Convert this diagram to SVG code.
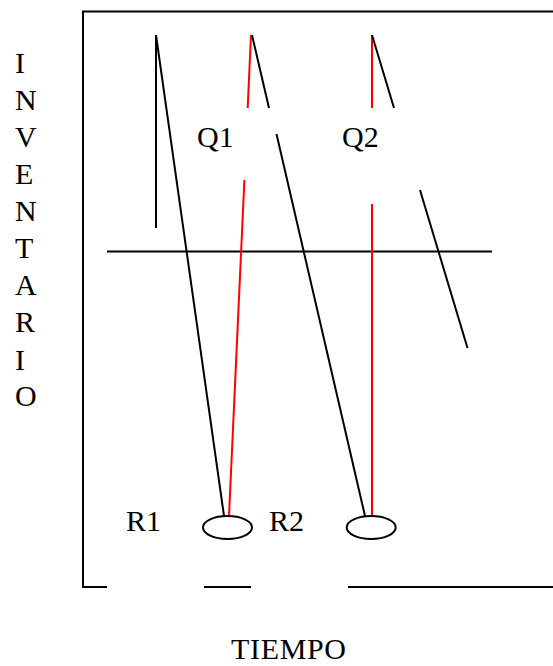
<svg xmlns="http://www.w3.org/2000/svg" width="553" height="666" viewBox="0 0 553 666">
<style>
.t{font-family:"Liberation Serif","Times New Roman",serif;font-size:30px;fill:#000}
.k{stroke:#000;stroke-width:2;fill:none}
.r{stroke:#ff0000;stroke-width:2;fill:none}
</style>
<rect width="553" height="666" fill="#fff"/>
<g id="frame">
<path class="k" d="M553,11.5 H83 V587 H107 M204,587 H251 M348,587 H553"/>
</g>
<g id="axis-labels">
<text class="t" x="15" y="73">I</text>
<text class="t" x="15" y="110">N</text>
<text class="t" x="15" y="147">V</text>
<text class="t" x="15" y="184">E</text>
<text class="t" x="15" y="221">N</text>
<text class="t" x="15" y="258">T</text>
<text class="t" x="15" y="295">A</text>
<text class="t" x="15" y="332">R</text>
<text class="t" x="15" y="370">I</text>
<text class="t" x="15" y="406">O</text>
<text class="t" x="231" y="659" textLength="115">TIEMPO</text>
</g>
<g id="connectors">
<line class="k" x1="107" y1="251.5" x2="492" y2="251.5"/>
<line class="k" x1="156" y1="35" x2="156" y2="228"/>
<line class="k" x1="156" y1="35" x2="224" y2="516"/>
<line class="r" x1="251" y1="35" x2="247.7" y2="108"/>
<line class="r" x1="244.4" y1="180" x2="229" y2="516"/>
<line class="k" x1="252" y1="35" x2="269" y2="108"/>
<line class="k" x1="276.5" y1="134" x2="365" y2="516"/>
<line class="r" x1="372" y1="35" x2="372" y2="108"/>
<line class="r" x1="372" y1="204" x2="372" y2="516"/>
<line class="k" x1="372" y1="35" x2="394" y2="108"/>
<line class="k" x1="420" y1="190" x2="467.5" y2="348"/>
</g>
<g id="r1-node">
<ellipse class="k" cx="227.5" cy="527.5" rx="24.5" ry="11.5" fill="#fff"/>
<text class="t" x="126" y="531">R1</text>
</g>
<g id="r2-node">
<ellipse class="k" cx="371.2" cy="527.5" rx="24.5" ry="11.5" fill="#fff"/>
<text class="t" x="269" y="531">R2</text>
</g>
<g id="q-labels">
<text class="t" x="197" y="147">Q1</text>
<text class="t" x="342" y="147">Q2</text>
</g>
</svg>
